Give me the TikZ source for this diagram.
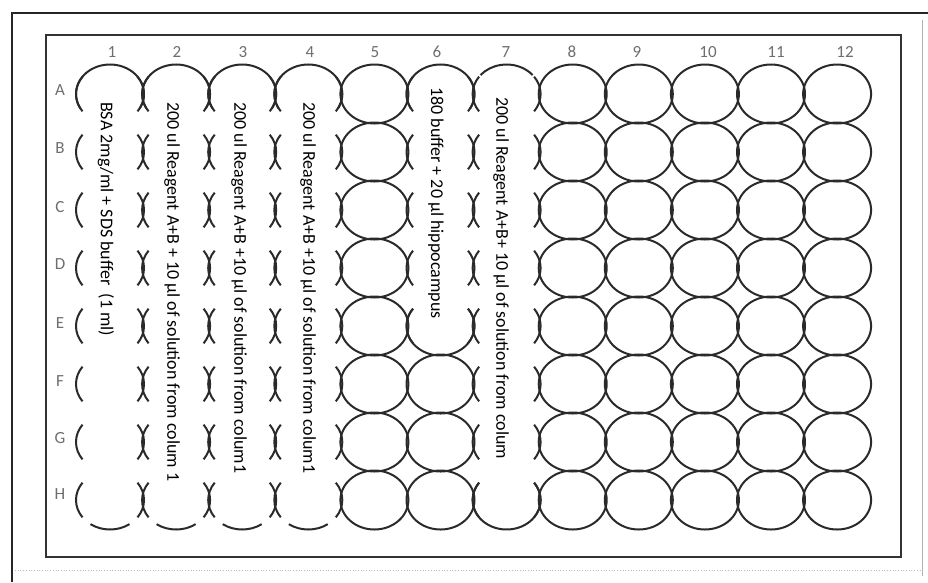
\documentclass[tikz,border=0pt]{standalone}
\usepackage{fontspec}
\setmainfont{Carlito}
\usetikzlibrary{calc}
\definecolor{cwell}{HTML}{2A2A2A}
\definecolor{clabel}{HTML}{6E6E6E}
\definecolor{cframe}{HTML}{333333}
\begin{document}
\begin{tikzpicture}[
    x=1pt, y=1pt,
    well/.style={draw=cwell, line width=2pt},
    lbl/.style={font=\fontsize{17}{17}\selectfont, text=clabel, inner sep=0pt},
    lane/.style={font=\fontsize{18}{18}\selectfont, text=black, rotate=-90, anchor=west, inner sep=0pt},
  ]
  \useasboundingbox (0,0) rectangle (928,-582);
  % sheet edges
  \draw[black!85, line width=1.4pt] (12,-582) -- (12,-13) -- (928,-13);
  \draw[gray!60, line width=0.8pt] (922,-20) -- (922,-576);
  \draw[gray!50, line width=0.7pt, dotted] (15,-570) -- (920,-570);
  % the plate
  \draw[cframe, line width=2.4pt] (46,-35) rectangle (901,-557);
  % column numbers and row letters
  \foreach \n/\x in {1/112,2/177,3/243,4/310,5/375,6/437,7/506,8/572,9/637,10/708,11/776,12/845}
    \node[lbl] (n\n) at (\x,-52) {\n};
  \foreach \l/\y in {A/90,B/148,C/207,D/264,E/323,F/381,G/438,H/494}
    \node[lbl] (r\l) at (60,-\y) {\l};
  % empty wells
  \foreach \c in {5,8,9,10,11,12}
    \foreach \r in {1,...,8}
      \draw[well] ({110+66.1*(\c-1)},{-94-58*(\r-1)}) ellipse [x radius=34, y radius=29.5];
  \foreach \r in {6,7,8}
    \draw[well] ({110+66.1*5},{-94-58*(\r-1)}) ellipse [x radius=34, y radius=29.5];
  % filled lanes: column / first row / last row / top arc / bottom arc
  \foreach \c/\ra/\rb/\ta/\tb/\ba/\bb in {1/1/8/-29/209/235/305, 2/1/8/-29/209/235/305,
      3/1/8/-29/209/235/305, 4/1/8/-29/209/235/305, 6/1/5/-29/209/144/396, 7/1/8/40/140/144/396} {
    \pgfmathsetmacro\cx{110+66.1*(\c-1)}
    \draw[well] (\cx,{-94-58*(\ra-1)}) ++(\ta:34 and 29.5)
      arc[start angle=\ta, end angle=\tb, x radius=34, y radius=29.5];
    \draw[well] (\cx,{-94-58*(\rb-1)}) ++(\ba:34 and 29.5)
      arc[start angle=\ba, end angle=\bb, x radius=34, y radius=29.5];
    \foreach \r in {\ra,...,\rb} {
      \draw[well] (\cx,{-94-58*(\r-1)}) ++(144:34 and 29.5)
        arc[start angle=144, end angle=216, x radius=34, y radius=29.5];
      \draw[well] (\cx,{-94-58*(\r-1)}) ++(-36:34 and 29.5)
        arc[start angle=-36, end angle=36, x radius=34, y radius=29.5];
    }
  }
  % what goes in the lanes
  \node[lane] (t1) at (106,-102) {BSA 2mg/ml + SDS buffer\ \ (1 ml)};
  \node[lane] (t2) at (172,-102) {200 ul Reagent A+B + 10 µl of solution from colum 1};
  \node[lane] (t3) at (239,-102) {200 ul Reagent A+B +10 µl of solution from colum1};
  \node[lane] (t4) at (308,-102) {200 ul Reagent A+B +10 µl of solution from colum1};
  \node[lane] (t6) at (436,-87) {180 buffer + 20 µl hippocampus};
  \node[lane] (t7) at (501,-97) {200 ul Reagent A+B+ 10 µl of solution from colum};
\end{tikzpicture}
\end{document}
